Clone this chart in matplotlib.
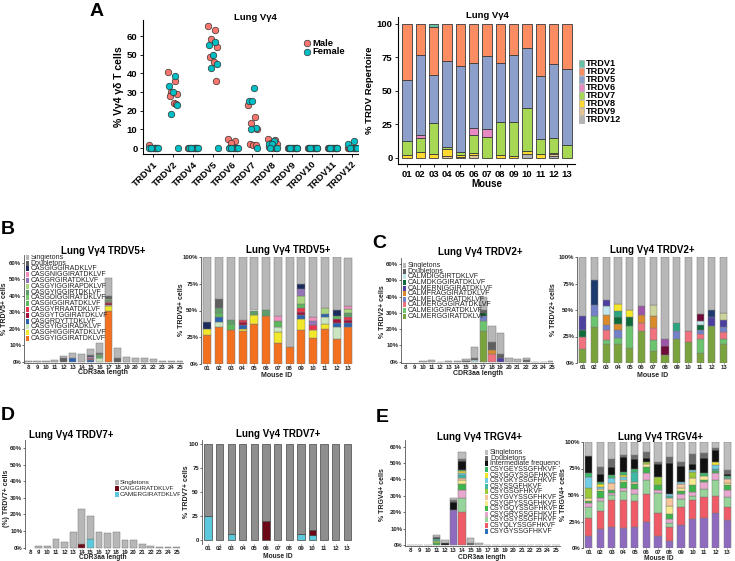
import numpy as np
import matplotlib
matplotlib.use("Agg")
import matplotlib.pyplot as plt
from matplotlib.patches import Rectangle

plt.rcParams['font.family'] = ['Liberation Sans', 'DejaVu Sans']

W, H = 735, 561
fig = plt.figure(figsize=(W / 100, H / 100), dpi=100)

# ---------------- DATA ----------------
# Panel A (left): % of Vg4 gd T cells per TRDV gene, by sex
trdv_genes = ["TRDV1", "TRDV2", "TRDV4", "TRDV5", "TRDV6", "TRDV7", "TRDV8",
              "TRDV9", "TRDV10", "TRDV11", "TRDV12"]
male_pct = [
    [1.5, 0, 0, 0, 0, 0, 0],
    [41, 36, 30, 29, 28, 24, 23.5],
    [0, 0, 0, 0, 0, 0, 0],
    [65.5, 63, 58.5, 54, 49, 46, 36],
    [5, 4, 2.5, 0, 0, 0, 0],
    [23, 16.5, 13.5, 10, 2, 1.5, 1.5],
    [5, 4.5, 2.5, 2, 0.5, 0, 0],
    [0, 0, 0, 0, 0, 0, 0],
    [0, 0, 0, 0, 0, 0, 0],
    [0, 0, 0, 0, 0, 0, 0],
    [0, 0, 0, 0, 0, 0, 0],
]
female_pct = [
    [0, 0, 0, 0, 0, 0],
    [38.5, 33, 30, 23, 18, 0],
    [0, 0, 0, 0, 0, 0],
    [57, 55, 50, 45, 43, 0],
    [0, 0, 0, 0, 0, 0],
    [32, 25, 25, 10.5, 10, 0],
    [3.5, 2, 2, 0, 0, 0],
    [0, 0, 0, 0, 0, 0],
    [0, 0, 0, 0, 0, 0],
    [0, 0, 0, 0, 0, 0],
    [4, 2, 0, 0, 0, 0],
]
jitter_m = [-0.22, 0.12, -0.08, 0.22, -0.15, 0.05, 0.17]
jitter_f = [0.1, -0.18, 0.0, 0.2, -0.1, 0.25]

# Panel A (right): TRDV repertoire per mouse (stack bottom -> top)
mice = ["01", "02", "03", "04", "05", "06", "07", "08", "09", "10", "11", "12", "13"]
repA_names = ["TRDV12", "TRDV9", "TRDV8", "TRDV7", "TRDV6", "TRDV5", "TRDV2", "TRDV1"]
repA_colors = ["#B3B3B3", "#E5C494", "#FFD92F", "#A6D854", "#E78AC3", "#8DA0CB", "#FC8D62", "#66C2A5"]
repA_TRDV12 = [0, 0, 0, 0, 0, 0, 0, 0, 0, 3, 0, 1.5, 0]
repA_TRDV9 = [0, 0, 0, 1.5, 1, 2, 0, 0, 0, 0, 0, 1.5, 0]
repA_TRDV8 = [2, 4.5, 3, 5, 1.5, 2, 0, 2.5, 1.5, 2.5, 3, 1, 0]
repA_TRDV7 = [10.5, 10.5, 23, 2, 2, 13.5, 16, 24.5, 25, 32, 11, 11, 10]
repA_TRDV6 = [0, 2.5, 0, 0, 0, 4.5, 5.5, 0, 0, 0, 0, 0, 0]
repA_TRDV5 = [46, 59, 36, 63.5, 64.5, 49, 54.5, 43.5, 50, 44.5, 47.5, 55, 56.5]
repA_TRDV2 = [41.5, 23.5, 36, 28, 31, 29, 24, 29.5, 23.5, 18, 38.5, 30, 33.5]
repA_TRDV1 = [0, 0, 2, 0, 0, 0, 0, 0, 0, 0, 0, 0, 0]

cdr3_len = list(range(8, 26))

# Panel B: TRDV5+ clonotypes (stack bottom -> top)
B_names = ["CASGYIGGIRATDKLVF", "CASGHIGGIRATDKLVF", "CASGYIGGIRADKLVF", "CASGRDYTTDKLVF",
           "CASGYTGGIRATDKLVF", "CASGYRRAATDKLVF", "CASGIGGIRATDKLVF", "CASGDIGGIRATDKLVF",
           "CASGYIGGIRTDKLVF", "CASGYIGGIRAPDKLVF", "CASGRGIRATDKLVF", "CASGNIGGIRATDKLVF",
           "CASGIGGIRADKLVF", "Doubletons", "Singletons"]
B_colors = ["#F37021", "#F2E82B", "#C9E6C0", "#2A62B0", "#A3123A", "#E8344E", "#5DB85C",
            "#7CC66E", "#5E9E6A", "#A8D57E", "#9474B6", "#F190BD", "#1C2A5E", "#5F5F5F", "#B7B7B7"]
B_len = [
    [0, 0, 0, 0, 0, 0, 0, 0, 0, 30.5, 0, 0, 0, 0, 0, 0, 0, 0],
    [0, 0, 0, 0, 0, 0, 0, 0, 0, 3.5, 0, 0, 0, 0, 0, 0, 0, 0],
    [0, 0, 0, 0, 0, 0, 0, 0, 2.0, 0.3, 0, 0, 0, 0, 0, 0, 0, 0],
    [0, 0, 0, 0, 0, 2.0, 0, 0.8, 0, 0, 0, 0, 0, 0, 0, 0, 0, 0],
    [0, 0, 0, 0, 0, 0, 0, 0.5, 0, 1.0, 0, 0, 0, 0, 0, 0, 0, 0],
    [0, 0, 0, 0, 0, 0, 0, 0.3, 0, 0.6, 0, 0, 0, 0, 0, 0, 0, 0],
    [0, 0, 0, 0, 0, 0, 0, 0, 1.5, 0.5, 0, 0, 0, 0, 0, 0, 0, 0],
    [0, 0, 0, 0, 0, 0, 0, 0, 0.5, 0.5, 0, 0, 0, 0, 0, 0, 0, 0],
    [0, 0, 0, 0, 0, 0, 0, 0, 0.5, 0.4, 0, 0, 0, 0, 0, 0, 0, 0],
    [0, 0, 0, 0, 0, 0, 0, 0.3, 0, 0.5, 0, 0, 0, 0, 0, 0, 0, 0],
    [0, 0, 0, 0, 0, 0, 0, 0.5, 0, 0, 0, 0, 0, 0, 0, 0, 0, 0],
    [0, 0, 0, 0, 0, 0, 0, 0.4, 0, 0, 0, 0, 0, 0, 0, 0, 0, 0],
    [0, 0, 0, 0, 0, 0, 0, 0.8, 0, 0, 0, 0, 0, 0, 0, 0, 0, 0],
    [0, 0, 0, 0, 2.0, 0.3, 0, 0.3, 0.5, 2.0, 2.0, 0, 0, 0, 0, 0, 0, 0],
    [0.2, 0.6, 0.5, 1.0, 1.2, 2.7, 4.4, 3.8, 6.5, 11.0, 6.5, 2.6, 2.0, 2.0, 1.6, 0.2, 0.2, 0.2],
]
B_mouse = [
    [27.5, 35, 32, 31, 37, 45, 20, 15.5, 32, 24, 33, 23, 35],
    [5, 0, 0, 2, 9, 0, 10, 0, 10, 8, 4, 0, 0],
    [0, 4, 0, 0, 0, 0, 5, 0, 0, 0, 7, 12, 0],
    [0, 4.5, 0, 3, 0, 0, 0, 0, 4, 0, 3, 3, 3],
    [0, 0, 0, 3, 0, 0, 0, 0, 3, 0, 0, 4, 3],
    [0, 0, 0, 2, 0, 0, 0, 0, 3, 4, 0, 0, 3],
    [0, 4.5, 5, 0, 0, 0, 5, 0, 4, 0, 0, 3, 0],
    [0, 0, 0, 0, 0, 0, 0, 0, 0, 0, 0, 0, 0],
    [0, 4.5, 4, 0, 4, 5, 0, 0, 0, 0, 0, 0, 4],
    [0, 0, 0, 0, 0, 0, 0, 0, 8, 0, 5, 0, 3],
    [0, 0, 0, 0, 0, 0, 0, 0, 6, 4, 0, 0, 0],
    [0, 0, 0, 0, 0, 0, 5, 0, 0, 4, 0, 0, 3],
    [6.5, 0, 0, 0, 0, 0, 0, 0, 5, 0, 0, 5, 0],
    [0, 8.5, 0, 0, 0, 0, 0, 0, 0, 0, 0, 0, 0],
    [61, 39, 59, 59, 50, 50, 55, 84.5, 25, 56, 48, 50, 45],
]

# Panel C: TRDV2+ clonotypes (stack bottom -> top)
C_names = ["CALMERGGIRATDKLVF", "CALMEIGGIRATDKLVF", "CALMERGGGIRATDKLVF", "CALMELGGIRATDKLVF",
           "CALMFRAGGIRATDKLVF", "CALMDKGGIRATDKLVF", "other1", "CALMDIGGIRTDKLVF",
           "CALMERNIGGIRATDKLVF", "other2", "other3", "other4", "other5", "other6",
           "Doubletons", "Singletons"]
C_colors = ["#7AA33E", "#6CC46F", "#F0727F", "#7480C8", "#D98A2B", "#0E6B3A", "#2BA57F",
            "#C3E7EC", "#4B3FA0", "#1C3A6E", "#CCD39B", "#F5E82A", "#6E0B3A", "#9C55A8",
            "#5F5F5F", "#B7B7B7"]
C_len = [
    [0, 0, 0, 0, 0, 0, 0, 0, 0, 19, 0, 0, 0, 0, 0, 0, 0, 0],
    [0, 0, 0, 0, 0, 0, 0, 0, 0, 6, 0, 0, 0, 0, 0, 0, 0, 0],
    [0, 0, 0, 0, 0, 0, 0, 0, 0, 0, 4.7, 0, 0, 0, 0, 0, 0, 0],
    [0, 0, 0, 0, 0, 0, 0, 0, 0, 3, 0, 0, 0, 0, 0, 0, 0, 0],
    [0, 0, 0, 0, 0, 0, 0, 0, 0, 0, 2.3, 0, 0, 0, 0, 0, 0, 0],
    [0, 0, 0, 0, 0, 0, 0, 0, 0, 2, 0, 0, 0, 0, 0, 0, 0, 0],
    [0] * 18,
    [0, 0, 0, 0, 0, 0, 0, 0, 1.0, 0, 0, 0, 0, 0, 0, 0, 0, 0],
    [0, 0, 0, 0, 0, 0, 0, 0, 0, 0, 0, 2.0, 0, 0, 0, 0, 0, 0],
    [0] * 18, [0] * 18, [0] * 18, [0] * 18, [0] * 18,
    [0, 0, 0, 0, 0, 0, 0, 0.3, 1.5, 2, 5, 2.5, 0, 0, 0.8, 0, 0, 0],
    [0, 0, 0.3, 0.8, 0.1, 0.3, 0.3, 1.5, 6.3, 8, 9.7, 13.1, 2.5, 1.4, 1.4, 0.1, 0.1, 0.5],
]
C_mouse = [
    [13, 34, 18, 18, 14, 30, 11, 8, 23, 20, 9, 35, 17.5],
    [0, 10, 4, 6, 21, 0, 11, 0, 0, 0, 14, 0, 5.5],
    [12, 0, 9, 0, 0, 8, 11, 0, 0, 10, 4, 0, 6],
    [0, 11, 5, 7, 0, 0, 0, 0, 7, 0, 4, 0, 5],
    [0, 0, 9, 6, 0, 7, 11, 0, 0, 0, 0, 0, 0],
    [6, 0, 0, 6, 8, 0, 0, 0, 0, 0, 5, 0, 0],
    [0, 0, 0, 6, 0, 0, 0, 0, 8, 0, 0, 0, 0],
    [0, 0, 9, 0, 0, 0, 0, 0, 0, 0, 4, 0, 0],
    [13, 0, 5, 0, 0, 0, 0, 0, 0, 0, 0, 8, 7],
    [0, 23, 0, 0, 0, 0, 0, 0, 0, 0, 0, 7, 0],
    [0, 0, 0, 0, 0, 0, 11, 0, 0, 0, 0, 0, 6],
    [0, 0, 0, 7, 7, 0, 0, 0, 0, 0, 0, 0, 0],
    [0, 0, 0, 0, 0, 0, 0, 8, 0, 0, 6, 0, 0],
    [0, 0, 0, 0, 0, 9, 0, 7, 0, 0, 0, 0, 0],
    [0] * 13,
    [56, 22, 41, 44, 50, 46, 45, 77, 62, 70, 54, 50, 53],
]

# Panel D: TRDV7+ clonotypes
D_names = ["CAIGGIRATDKLVF", "CAMERGIRATDKLVF", "Singletons"]
D_colors = ["#6B0A16", "#5BC8DB", "#B7B7B7"]
D_len = [
    [0, 0, 0, 0, 0, 0, 2, 0, 0, 0, 0, 0, 0, 0, 0, 0, 0, 0],
    [0, 0, 0, 0, 0, 0, 0, 5.5, 0, 0, 0, 0, 0, 0, 0, 0, 0, 0],
    [0, 1.2, 1.2, 5.3, 3.2, 9.3, 21, 13.5, 9.3, 8.7, 9.3, 4.5, 4.5, 2, 1.2, 0.2, 0.2, 0.2],
]
D_mouse_cyan = [25, 0, 7, 0, 0, 0, 0, 0, 7, 5, 0, 0, 0]
D_mouse_red = [0, 0, 0, 0, 0, 19.5, 0, 0, 0, 6, 0, 0, 0]
D_mouse_other = [75, 100, 93, 100, 100, 80.5, 100, 100, 93, 89, 100, 100, 100]

# Panel E: TRGV4+ clonotypes (stack bottom -> top)
E_names = ["other", "CSYGYSSGFHKVF", "CSYQLYSSGFHKVF", "CSYGSYSSGFHKVF", "CSYGRYSSGFHKVF",
           "CSYGQYSSGFHKVF", "CSYGPYSSGFHKVF", "CSYGVYSSGFHKVF", "CSYGSGFHKVF", "CSYSSGFHKVF",
           "CSYGKYSSGFHKVF", "CSYGGYSSGFHKVF", "CSYGEYSSGFHKVF", "Intermediate frequency",
           "Doubletons", "Singletons"]
E_colors = ["#8E6BBF", "#2C6FBB", "#EF5B66", "#97D49A", "#E9A6CF", "#3DB54A", "#F6E98F",
            "#F7C59A", "#9BC93A", "#3FB8A5", "#72CDE5", "#F1E32A", "#39B86A", "#111111",
            "#6A6A6A", "#BDBDBD"]
E_len = [
    [0, 0, 0, 0, 0, 21.5, 0, 0, 0, 0, 0, 0, 0, 0, 0, 0, 0, 0],
    [0] * 18,
    [0, 0, 0, 0, 0, 0, 20, 0, 0, 0, 0, 0, 0, 0, 0, 0, 0, 0],
    [0, 0, 0, 0, 0, 0, 9, 0, 0, 0, 0, 0, 0, 0, 0, 0, 0, 0],
    [0, 0, 0, 0, 0, 0, 4.5, 0, 0, 0, 0, 0, 0, 0, 0, 0, 0, 0],
    [0, 0, 0, 1, 0, 0, 3.5, 0, 0, 0, 0, 0, 0, 0, 0, 0, 0, 0],
    [0, 0, 0, 0, 0, 0, 2.5, 0, 0, 0, 0, 0, 0, 0, 0, 0, 0, 0],
    [0, 0, 0, 0, 0, 0, 1.5, 0, 0, 0, 0, 0, 0, 0, 0, 0, 0, 0],
    [0, 0, 0, 1.5, 0, 0, 0, 0, 0, 0, 0, 0, 0, 0, 0, 0, 0, 0],
    [0, 0, 0, 1, 0, 0, 1.5, 0, 0, 0, 0, 0, 0, 0, 0, 0, 0, 0],
    [0, 0, 0, 0, 0, 0, 1.5, 0, 0, 0, 0, 0, 0, 0, 0, 0, 0, 0],
    [0, 0, 0, 0, 0, 0, 1, 0, 0, 0, 0, 0, 0, 0, 0, 0, 0, 0],
    [0, 0, 0, 0, 0, 0, 0.5, 0, 0, 0, 0, 0, 0, 0, 0, 0, 0, 0],
    [0, 0, 0, 1, 1, 4.5, 5.5, 0, 0, 0, 0, 0, 0, 0, 0, 0, 0, 0],
    [0, 0, 0, 0.5, 0, 1.5, 1.5, 1, 0, 0, 0, 0, 0, 0, 0, 0, 0, 0],
    [0.1, 0.1, 0.1, 1, 2, 1, 4, 3, 1.5, 0.1, 0.1, 0.1, 0.1, 0.1, 0.1, 0.1, 0.1, 0.1],
]
E_mouse = [
    [11, 18, 20, 19, 20, 25, 11, 7, 22, 27, 28, 33, 26],
    [0] * 13,
    [17, 17, 25, 26, 24, 26, 22, 13, 17, 18, 20, 16, 13],
    [11, 9, 5, 9, 7, 13, 19, 4, 7, 4, 8, 15, 9],
    [3, 3, 2, 3, 5, 7, 3, 3, 5, 4, 6, 7, 7],
    [2, 7, 3, 5, 4, 5, 4, 5, 3, 6, 2, 2, 4],
    [3, 2, 0, 2, 0, 3, 0, 8, 3, 7, 4, 0, 2],
    [0, 0, 6, 0, 2, 0, 0, 7, 3, 0, 0, 0, 4],
    [10, 0, 0, 0, 0, 2, 8, 0, 0, 6, 0, 0, 0],
    [0, 0, 0, 0, 10, 0, 0, 2, 0, 0, 0, 2, 0],
    [10, 2, 5, 3, 0, 0, 0, 2, 2, 2, 0, 3, 1],
    [0, 2, 0, 2, 0, 0, 0, 0, 0, 0, 0, 3, 0],
    [4, 2, 3, 3, 3, 0, 0, 0, 0, 0, 3, 0, 2],
    [15.5, 8, 7, 14, 9, 4, 12, 29, 15, 5, 14, 11, 2],
    [0, 6, 8, 2, 4, 6, 2, 6, 4, 10, 5, 2, 4],
    [13.5, 24, 16, 12, 12, 9, 19, 14, 19, 11, 10, 6, 26],
]


# ---------------- HELPERS ----------------
def px_axes(l, t, r, b):
    return fig.add_axes([l / W, 1 - b / H, (r - l) / W, (b - t) / H])


def fx(x):
    return x / W


def fy(y):
    return 1 - y / H


def stack(ax, x, series, colors, width, edge, lw):
    x = np.asarray(x, float)
    bottom = np.zeros(len(x))
    for vals, c in zip(series, colors):
        v = np.asarray(vals, float)
        m = v > 0
        if m.any():
            ax.bar(x[m], v[m], width, bottom=bottom[m], color=c, edgecolor=edge, linewidth=lw)
        bottom += v


def small_style(ax, left_only=True):
    for s in ["top", "right"]:
        ax.spines[s].set_visible(False)
    if left_only:
        ax.spines["bottom"].set_visible(False)
    ax.spines["left"].set_color("#555555")
    ax.spines["left"].set_linewidth(0.6)
    ax.spines["bottom"].set_color("#555555")
    ax.spines["bottom"].set_linewidth(0.6)
    ax.tick_params(axis="y", labelsize=4.3, length=1.4, width=0.5, pad=0.6,
                   colors="#333333", labelcolor="#222222")
    ax.tick_params(axis="x", labelsize=4.3, length=1.0, width=0.5, pad=0.4,
                   colors="#333333", labelcolor="#222222")
    for lab in ax.get_xticklabels() + ax.get_yticklabels():
        lab.set_fontweight("bold")


def ylab(x, y, s, fs=5.0):
    fig.text(fx(x), fy(y), s, rotation=90, ha="center", va="center", fontsize=fs,
             fontweight="bold", color="#222222")


def xlab(x, y, s, fs=5.0):
    fig.text(fx(x), fy(y), s, ha="center", va="center", fontsize=fs,
             fontweight="bold", color="#222222")


def manual_legend(ax, x, y0, step, names, colors, fs=5, pw=3.5, ph=5.0, clip=True):
    for i, (n, c) in enumerate(zip(names, colors)):
        y = y0 + i * step
        r = Rectangle((fx(x), fy(y + ph / 2)), pw / W, ph / H, transform=fig.transFigure,
                      facecolor=c, edgecolor="none", clip_on=False)
        ax.add_artist(r)
        ax.text(fx(x + pw + 1.5), fy(y), n, transform=fig.transFigure, fontsize=fs,
                va="center", ha="left", color="#222222", clip_on=clip)


def title(x, y, s, fs=7):
    fig.text(fx(x), fy(y), s, ha="center", va="center", fontsize=fs, fontweight="bold")


def pct_fmt(vals):
    return [f"{int(v)}%" for v in vals]


# ---------------- PANEL A left ----------------
axA = px_axes(143, 20, 358, 154)
xi = np.arange(len(trdv_genes))
for i in range(len(trdv_genes)):
    axA.scatter(i + np.array(jitter_m), male_pct[i], s=22, color="#F8766D",
                edgecolor="#333333", linewidth=0.5, zorder=3)
    axA.scatter(i + np.array(jitter_f), female_pct[i], s=22, color="#00BFC4",
                edgecolor="#333333", linewidth=0.5, zorder=3)
axA.set_xlim(-0.5, 10.3)
axA.set_ylim(-3.2, 68.6)
axA.set_xticks(xi)
axA.set_xticklabels(trdv_genes, rotation=45, ha="right", rotation_mode="anchor")
axA.set_yticks([0, 10, 20, 30, 40, 50, 60])
for s in ["top", "right"]:
    axA.spines[s].set_visible(False)
axA.tick_params(labelsize=6.8, length=2.5, width=0.6, pad=1.5)
for lab in axA.get_xticklabels() + axA.get_yticklabels():
    lab.set_fontweight("bold")
axA.set_ylabel("% Vγ4 γδ T cells", fontsize=7.5, fontweight="bold", labelpad=2)
axA.scatter([fx(307)], [fy(43)], s=22, color="#F8766D", edgecolor="#333333", linewidth=0.5,
            transform=fig.transFigure, clip_on=False)
axA.scatter([fx(307)], [fy(52)], s=22, color="#00BFC4", edgecolor="#333333", linewidth=0.5,
            transform=fig.transFigure, clip_on=False)
fig.text(fx(312), fy(43), "Male", fontsize=6.8, fontweight="bold", va="center")
fig.text(fx(312), fy(52), "Female", fontsize=6.8, fontweight="bold", va="center")
title(255, 17, "Lung Vγ4", 6.8)
fig.text(fx(90), fy(11), "A", fontsize=14, fontweight="bold", va="center")

# ---------------- PANEL A right ----------------
axR = px_axes(398, 17, 575, 164)
xm = np.arange(len(mice))
repA = [repA_TRDV12, repA_TRDV9, repA_TRDV8, repA_TRDV7, repA_TRDV6, repA_TRDV5, repA_TRDV2, repA_TRDV1]
stack(axR, xm, repA, repA_colors, 0.7, "#3a3a3a", 0.6)
axR.set_xlim(-0.675, 12.6)
axR.set_ylim(-4.5, 105.2)
axR.set_xticks(xm)
axR.set_xticklabels(mice)
axR.set_yticks([0, 25, 50, 75, 100])
for s in ["top", "right"]:
    axR.spines[s].set_visible(False)
axR.tick_params(labelsize=6.8, length=2.5, width=0.6, pad=1.5)
for lab in axR.get_xticklabels() + axR.get_yticklabels():
    lab.set_fontweight("bold")
axR.set_ylabel("% TRDV Repertoire", fontsize=6.8, fontweight="bold", labelpad=2)
axR.set_xlabel("Mouse", fontsize=7, fontweight="bold", labelpad=0)
title(487, 15, "Lung Vγ4", 6.8)
leg_names = repA_names[::-1]
leg_cols = repA_colors[::-1]
for i, (n, c) in enumerate(zip(leg_names, leg_cols)):
    y = 63 + i * 8.0
    axR.add_artist(Rectangle((fx(579), fy(y + 3.5)), 5 / W, 7 / H, transform=fig.transFigure,
                             facecolor=c, edgecolor="#999999", linewidth=0.4, clip_on=False))
    fig.text(fx(585.5), fy(y), n, fontsize=6.6, fontweight="bold", va="center")

# ---------------- PANEL B ----------------
axBL = px_axes(24, 255, 183, 363)
stack(axBL, cdr3_len, B_len, B_colors, 0.8, "#7a7a7a", 0.35)
axBL.set_xlim(7.55, 25.3)
axBL.set_ylim(-0.8, 64.7)
axBL.set_xticks(cdr3_len)
axBL.set_yticks([0, 10, 20, 30, 40, 50, 60])
axBL.set_yticklabels(pct_fmt([0, 10, 20, 30, 40, 50, 60]))
small_style(axBL, left_only=False)
ylab(4.5, 309, "% TRDV5+ cells")
xlab(103, 373, "CDR3aa length")
manual_legend(axBL, 25.5, 257.3, 5.8, B_names[::-1], B_colors[::-1], fs=5)
title(103, 251, "Lung Vγ4 TRDV5+", 7)
fig.text(fx(1), fy(230), "B", fontsize=14, fontweight="bold", va="center")

axBR = px_axes(201, 257, 353, 364)
stack(axBR, xm, B_mouse, B_colors, 0.68, "#7a7a7a", 0.35)
axBR.set_xlim(-0.54, 12.4)
axBR.set_ylim(0, 100)
axBR.set_xticks(xm)
axBR.set_xticklabels(mice)
axBR.set_yticks([0, 25, 50, 75, 100])
axBR.set_yticklabels(pct_fmt([0, 25, 50, 75, 100]))
small_style(axBR)
ylab(181.5, 310, "% TRDV5+ cells")
xlab(277, 375.5, "Mouse ID")
title(288, 250, "Lung Vγ4 TRDV5+", 7)

# ---------------- PANEL C ----------------
axCL = px_axes(401, 258, 553, 363)
stack(axCL, cdr3_len, C_len, C_colors, 0.85, "#7a7a7a", 0.35)
axCL.set_xlim(7.45, 25.1)
axCL.set_ylim(-0.8, 63.7)
axCL.set_xticks(cdr3_len)
axCL.set_yticks([0, 10, 20, 30, 40, 50, 60])
axCL.set_yticklabels(pct_fmt([0, 10, 20, 30, 40, 50, 60]))
small_style(axCL, left_only=False)
ylab(382, 312, "% TRDV2+ cells")
xlab(478, 373.5, "CDR3aa length")
C_leg_idx = [15, 14, 7, 5, 8, 4, 3, 2, 1, 0]
manual_legend(axCL, 402.5, 265.7, 5.6, [C_names[i] for i in C_leg_idx],
              [C_colors[i] for i in C_leg_idx], fs=5)
title(480, 252, "Lung Vγ4 TRDV2+", 7)
fig.text(fx(372), fy(243), "C", fontsize=14, fontweight="bold", va="center")

axCR = px_axes(577, 257, 731, 363)
stack(axCR, xm, C_mouse, C_colors, 0.6, "#7a7a7a", 0.35)
axCR.set_xlim(-0.49, 12.62)
axCR.set_ylim(0, 100)
axCR.set_xticks(xm)
axCR.set_xticklabels(mice)
axCR.set_yticks([0, 25, 50, 75, 100])
axCR.set_yticklabels(pct_fmt([0, 25, 50, 75, 100]))
small_style(axCR)
ylab(553.5, 310, "% TRDV2+ cells")
xlab(653, 375.5, "Mouse ID")
title(652, 250, "Lung Vγ4 TRDV2+", 7)

# ---------------- PANEL D ----------------
axDL = px_axes(25, 440, 180, 548.5)
stack(axDL, cdr3_len, D_len, D_colors, 0.78, "#7a7a7a", 0.35)
axDL.set_xlim(7.42, 25.38)
axDL.set_ylim(-0.5, 64.8)
axDL.set_xticks(cdr3_len)
axDL.set_yticks([0, 10, 20, 30, 40, 50, 60])
axDL.set_yticklabels(pct_fmt([0, 10, 20, 30, 40, 50, 60]))
small_style(axDL)
ylab(6, 498, "(%) TRDV7+ cells")
xlab(103, 557.8, "CDR3aa length", fs=4.8)
D_leg_idx = [2, 0, 1]
manual_legend(axDL, 115, 482.3, 5.9, [D_names[i] for i in D_leg_idx],
              [D_colors[i] for i in D_leg_idx], fs=4.6, clip=True)
fig.text(fx(29), fy(435), "Lung Vγ4 TRDV7+", fontsize=7, fontweight="bold", va="center")
fig.text(fx(1), fy(415), "D", fontsize=14, fontweight="bold", va="center")

axDR = px_axes(201.7, 440, 352, 544)
stack(axDR, xm, [D_mouse_cyan, D_mouse_red, D_mouse_other], ["#5BC8DB", "#6B0A16", "#8E8E8E"],
      0.63, "#444444", 0.5)
axDR.set_xlim(-0.54, 12.4)
axDR.set_ylim(-3.8, 103.8)
axDR.set_xticks(xm)
axDR.set_xticklabels(mice)
axDR.set_yticks([0, 25, 50, 75, 100])
small_style(axDR)
ylab(187, 492, "% TRDV7+ cells")
xlab(278, 556.5, "Mouse ID", fs=4.8)
title(278, 434, "Lung Vγ4 TRDV7+", 7)

# ---------------- PANEL E ----------------
axEL = px_axes(405, 440, 560, 546)
stack(axEL, cdr3_len, E_len, E_colors, 0.9, "#7a7a7a", 0.35)
axEL.set_xlim(7.33, 25.47)
axEL.set_ylim(-0.6, 64.1)
axEL.set_xticks(cdr3_len)
axEL.set_yticks([0, 10, 20, 30, 40, 50, 60])
axEL.set_yticklabels(pct_fmt([0, 10, 20, 30, 40, 50, 60]))
small_style(axEL, left_only=False)
ylab(382.5, 495, "% TRGV4+ cells")
xlab(482, 557.8, "CDR3aa length", fs=4.8)
manual_legend(axEL, 485, 452.7, 5.6, E_names[1:][::-1], E_colors[1:][::-1], fs=5)
title(480, 437, "Lung Vγ4 TRGV4+", 7)
fig.text(fx(376), fy(418), "E", fontsize=14, fontweight="bold", va="center")

axER = px_axes(583, 442, 733, 548)
stack(axER, xm, E_mouse, E_colors, 0.63, "#7a7a7a", 0.35)
axER.set_xlim(-0.49, 12.5)
axER.set_ylim(0, 100)
axER.set_xticks(xm)
axER.set_xticklabels(mice)
axER.set_yticks([0, 25, 50, 75, 100])
axER.set_yticklabels(pct_fmt([0, 25, 50, 75, 100]))
small_style(axER)
ylab(563.5, 495, "% TRGV4+ cells")
xlab(659, 558, "Mouse ID", fs=4.8)
title(660, 437, "Lung Vγ4 TRGV4+", 7)

fig.savefig("out.png", dpi=100)
